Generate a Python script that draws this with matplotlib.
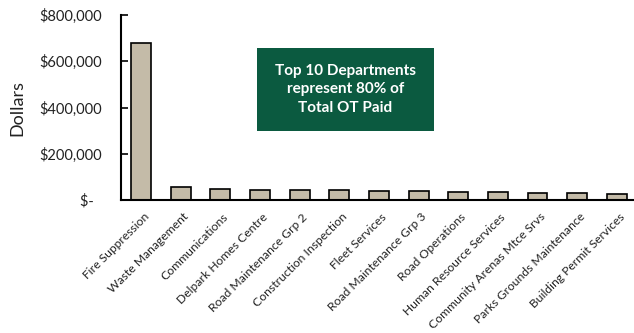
import matplotlib
matplotlib.use("Agg")
import matplotlib.pyplot as plt
import matplotlib.transforms as mtransforms
from matplotlib.patches import Rectangle
from matplotlib.ticker import FixedLocator, FixedFormatter

departments = [
    "Fire Suppression", "Waste Management", "Communications",
    "Delpark Homes Centre", "Road Maintenance Grp 2", "Construction Inspection",
    "Fleet Services", "Road Maintenance Grp 3", "Road Operations",
    "Human Resource Services", "Community Arenas Mtce Srvs",
    "Parks Grounds Maintenance", "Building Permit Services",
]
ot_paid = [680000, 57500, 49000, 44600, 44600, 41800, 37500, 37500, 37000,
           33000, 30000, 30000, 26000]
y_ticks = [0, 200000, 400000, 600000, 800000]
y_tick_labels = ["$-  ", "$200,000", "$400,000", "$600,000", "$800,000"]

plt.rcParams["font.family"] = ["Lato", "DejaVu Sans"]

fig = plt.figure(figsize=(6.34, 3.33), dpi=100)
ax = fig.add_axes([0.1909, 0.399, 0.809, 0.556])

x = range(len(departments))
ax.bar(x, ot_paid, width=0.5, color="#C4BBA8", edgecolor="black", linewidth=1.2)

ax.set_xlim(-0.504, len(departments) - 0.57)
ax.set_ylim(0, 800000)
ax.yaxis.set_major_locator(FixedLocator(y_ticks))
ax.yaxis.set_major_formatter(FixedFormatter(y_tick_labels))
ax.tick_params(axis="y", labelsize=10.5, length=5, width=1.2, direction="in", pad=14,
               labelcolor="#222222")
ax.set_xticks(list(x))
ax.set_xticklabels(departments, rotation=45, ha="right", va="center",
                   rotation_mode="anchor", fontsize=8.7, color="#222222")
ax.tick_params(axis="x", length=0, pad=0)
shift = mtransforms.ScaledTranslation(6 / 100, -15 / 100, fig.dpi_scale_trans)
for lbl in ax.get_xticklabels():
    lbl.set_transform(lbl.get_transform() + shift)

for side in ("top", "right"):
    ax.spines[side].set_visible(False)
for side in ("left", "bottom"):
    ax.spines[side].set_linewidth(1.5)

ax.set_ylabel("Dollars", fontsize=13, labelpad=10, color="#222222")

# Call-out box
box_w, box_h = 177 / 634, 83 / 333
box_x, box_y = 257 / 634, 1 - 131 / 333
fig.patches.append(Rectangle((box_x, box_y), box_w, box_h, transform=fig.transFigure,
                             facecolor="#0B5A40", edgecolor="none"))
fig.text(box_x + box_w / 2, box_y + box_h / 2,
         "Top 10 Departments\nrepresent 80% of\nTotal OT Paid",
         ha="center", va="center", color="white", fontsize=11, fontweight="bold",
         linespacing=1.4)

fig.savefig("out.png", dpi=100)
